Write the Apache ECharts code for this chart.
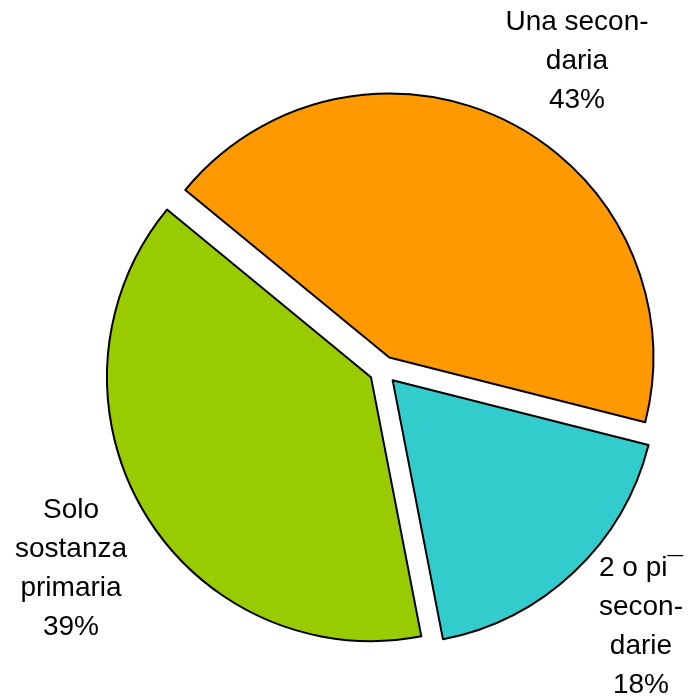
<!DOCTYPE html>
<html>
<head>
<meta charset="utf-8">
<script src="https://cdn.jsdelivr.net/npm/echarts@6/dist/echarts.min.js"></script>
<style>html,body{margin:0;padding:0;background:#fff;}#c{width:691px;height:698px;}</style>
</head>
<body>
<div id="c"></div>
<script>
const categories = ["Una secon-\ndaria", "2 o pi\u00AF\nsecon-\ndarie", "Solo\nsostanza\nprimaria"];
const values = [43, 18, 39];
const colors = ["#FF9900", "#33CCCC", "#99CC00"];
const labelPos = [[577, 61], [641, 627], [71, 569]];

const chart = echarts.init(document.getElementById('c'), null, {renderer: 'canvas'});
chart.setOption({
  animation: false,
  backgroundColor: '#ffffff',
  graphic: categories.map((c, i) => ({
    type: 'text',
    x: labelPos[i][0],
    y: labelPos[i][1],
    silent: true,
    style: {
      text: c + '\n' + values[i] + '%',
      fontFamily: 'Liberation Sans, Arial, sans-serif',
      fontSize: 28,
      lineHeight: 39,
      fill: '#000',
      align: 'center',
      verticalAlign: 'middle'
    }
  })),
  series: [{
    type: 'pie',
    center: [383, 370],
    radius: [0, 264],
    startAngle: 140.6,
    clockwise: true,
    selectedMode: 'multiple',
    selectedOffset: 14,
    emphasis: {disabled: true, scale: false},
    itemStyle: {borderColor: '#000', borderWidth: 2},
    label: {show: false},
    labelLine: {show: false},
    data: categories.map((c, i) => ({
      name: c, value: values[i], selected: true,
      itemStyle: {color: colors[i]}
    }))
  }]
});
</script>
</body>
</html>
